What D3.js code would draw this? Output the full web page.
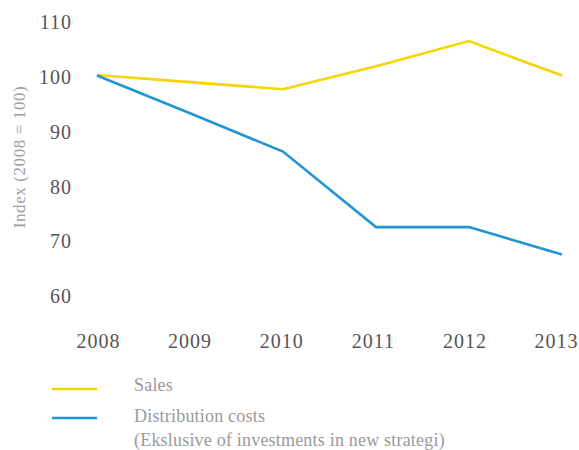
<!DOCTYPE html>
<html>
<head>
<meta charset="utf-8">
<script src="https://cdn.jsdelivr.net/npm/d3@7/dist/d3.min.js"></script>
<style>
  html, body { margin: 0; padding: 0; background: #fff; }
  svg { display: block; }
  text { font-family: "Liberation Serif", "DejaVu Serif", serif; }
</style>
</head>
<body>
<svg id="chart" width="579" height="450"></svg>
<script>
// Index values, 2008 = 100
const years = ["2008", "2009", "2010", "2011", "2012", "2013"];
const sales = [100.4, 99.1, 97.8, 102.0, 106.6, 100.3];
const distributionCosts = [100.3, 93.4, 86.4, 72.6, 72.6, 67.6];
const yTicks = [60, 70, 80, 90, 100, 110];
const legendLabels = ["Sales", "Distribution costs", "(Ekslusive of investments in new strategi)"];
const colors = { sales: "#F6D500", dist: "#2196D3" };

const svg = d3.select("#chart");

const x = d3.scalePoint().domain(years).range([97, 562]);
const xLabel = d3.scalePoint().domain(years).range([98, 556]);
const y = d3.scaleLinear().domain([60, 110]).range([296, 22.5]);

// Y axis: labels only
const yAxis = d3.axisLeft(y).tickValues(yTicks).tickSize(0).tickPadding(0);
const yg = svg.append("g").attr("transform", "translate(72,0)").call(yAxis);
yg.select(".domain").remove();
yg.selectAll("text")
  .attr("font-size", 20)
  .attr("fill", "#555555")
  .attr("letter-spacing", 1);

// X axis: labels only
const xAxis = d3.axisBottom(xLabel).tickSize(0).tickPadding(0);
const xg = svg.append("g").attr("transform", "translate(0,334)").call(xAxis);
xg.select(".domain").remove();
xg.selectAll("text")
  .attr("font-size", 20)
  .attr("fill", "#555555")
  .attr("letter-spacing", 1);

// Rotated axis title
svg.append("text")
  .attr("transform", "translate(25,157) rotate(-90)")
  .attr("text-anchor", "middle")
  .attr("font-size", 17)
  .attr("letter-spacing", 0.6)
  .attr("fill", "#a0a0a0")
  .text("Index (2008 = 100)");

const line = d3.line()
  .x((d, i) => x(years[i]))
  .y(d => y(d));

svg.append("path")
  .datum(sales)
  .attr("fill", "none")
  .attr("stroke", colors.sales)
  .attr("stroke-width", 2.6)
  .attr("d", line);

svg.append("path")
  .datum(distributionCosts)
  .attr("fill", "none")
  .attr("stroke", colors.dist)
  .attr("stroke-width", 2.6)
  .attr("d", line);

// Legend
const legend = svg.append("g");
legend.append("line")
  .attr("x1", 52).attr("x2", 97).attr("y1", 389).attr("y2", 389)
  .attr("stroke", colors.sales).attr("stroke-width", 2.6);
legend.append("line")
  .attr("x1", 52).attr("x2", 97).attr("y1", 418).attr("y2", 418)
  .attr("stroke", colors.dist).attr("stroke-width", 2.6);

const legendText = [[134, 391], [134, 422], [134, 446]];
legendLabels.forEach((t, i) => {
  legend.append("text")
    .attr("x", legendText[i][0]).attr("y", legendText[i][1])
    .attr("font-size", 18)
    .attr("letter-spacing", 0.2)
    .attr("fill", "#9a9a9a")
    .text(t);
});
</script>
</body>
</html>
